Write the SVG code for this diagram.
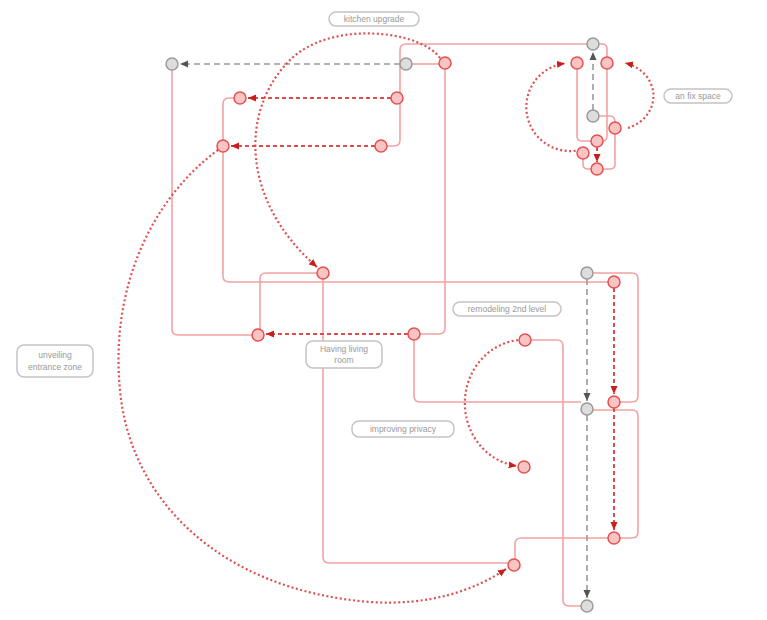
<svg xmlns="http://www.w3.org/2000/svg" width="767" height="620" viewBox="0 0 767 620">
<defs>
<style>
.bg{fill:#ffffff}
.s{fill:none;stroke:#f3a3a3;stroke-width:1.6}
.dr{fill:none;stroke:#e04a4a;stroke-width:2;stroke-dasharray:4 3}
.dt{fill:none;stroke:#e05050;stroke-width:2.2;stroke-dasharray:2 2.5}
.dg{fill:none;stroke:#9a9a9a;stroke-width:1.6;stroke-dasharray:6 4}
.rn{fill:#f9c4c4;stroke:#e85050;stroke-width:1.5}
.gn{fill:#dddddd;stroke:#9a9a9a;stroke-width:1.5}
.lb{fill:#ffffff;stroke:#c4c4c4;stroke-width:1.5}
.lt{fill:#999999;font-family:"Liberation Sans",Arial,sans-serif;font-size:8.5px;text-anchor:middle}
</style>
<marker id="ar" markerUnits="userSpaceOnUse" markerWidth="9" markerHeight="8" refX="8" refY="4" orient="auto"><path d="M0,0.5 L8,4 L0,7.5 z" fill="#c81e1e"/></marker>
<marker id="ag" markerUnits="userSpaceOnUse" markerWidth="9" markerHeight="8" refX="8" refY="4" orient="auto"><path d="M0,0.5 L8,4 L0,7.5 z" fill="#555555"/></marker>
</defs>
<rect class="bg" x="0" y="0" width="767" height="620"/>
<g id="connectors">
<path class="s" d="M412,64 H439"/>
<path class="s" d="M172,70 V329 Q172,335 178,335 H252"/>
<path class="s" d="M234,98 H229 Q223,98 223,104 V140"/>
<path class="s" d="M223,152 V276 Q223,282 229,282 H608"/>
<path class="s" d="M587,44 H406 Q400,44 400,50 V140 Q400,146 394,146 H387"/>
<path class="s" d="M445,69 V328 Q445,334 439,334 H420"/>
<path class="s" d="M317,273 H266 Q260,273 260,279 V329"/>
<path class="s" d="M323,279 V557 Q323,563 329,563 H508"/>
<path class="s" d="M414,340 V396 Q414,402 420,402 H581"/>
<path class="s" d="M593,273 H632 Q638,273 638,279 V396 Q638,402 632,402 H620"/>
<path class="s" d="M593,410 H632 Q638,410 638,416 V532 Q638,538 632,538 H620"/>
<path class="s" d="M608,538 H521 Q515,538 515,544 V559"/>
<path class="s" d="M531,340 H557 Q563,340 563,346 V600 Q563,606 569,606 H581"/>
<path class="s" d="M599,44 H602 Q607,44 607,49 V57"/>
<path class="s" d="M577,69 V136 Q577,141 582,141 H591"/>
<path class="s" d="M607,69 V135 Q607,141 603,141"/>
<path class="s" d="M599,116 H610 Q615,116 615,122"/>
<path class="s" d="M615,134 V164 Q615,169 610,169 H603"/>
<path class="s" d="M583,159 V164 Q583,169 588,169 H591"/>
<path class="dg" d="M400,64 H180" marker-end="url(#ag)"/>
<path class="dg" d="M593,110 V52" marker-end="url(#ag)"/>
<path class="dg" d="M587,279 V401" marker-end="url(#ag)"/>
<path class="dg" d="M587,415 V598" marker-end="url(#ag)"/>
<path class="dr" d="M408,334 H266" marker-end="url(#ar)"/>
<path class="dr" d="M391,98 H248" marker-end="url(#ar)"/>
<path class="dr" d="M375,146 H231" marker-end="url(#ar)"/>
<path class="dr" d="M614,288 V394" marker-end="url(#ar)"/>
<path class="dr" d="M614,408 V530" marker-end="url(#ar)"/>
<path class="dr" d="M597,147 V162" marker-end="url(#ar)"/>
<path class="dt" d="M440,58 C420,30 330,20 290,60 C240,110 240,200 317,267" marker-end="url(#ar)"/>
<path class="dt" d="M518,340 A60,63.5 0 0 0 516.7,466" marker-end="url(#ar)"/>
<path class="dt" d="M218,150 C150,200 110,290 120,390 C130,500 220,590 370,602 C430,606 475,590 506,569" marker-end="url(#ar)"/>
<path class="dt" d="M580,150 A44,44 0 1 1 565,63.4" marker-end="url(#ar)"/>
<path class="dt" d="M628,128 A38,34 0 0 0 625,63" marker-end="url(#ar)"/>
</g>
<g id="G1"><circle class="gn" cx="172" cy="64" r="6"/></g>
<g id="G2"><circle class="gn" cx="406" cy="64" r="6"/></g>
<g id="G3"><circle class="gn" cx="593" cy="44" r="6"/></g>
<g id="G4"><circle class="gn" cx="593" cy="116" r="6"/></g>
<g id="G5"><circle class="gn" cx="587" cy="273" r="6"/></g>
<g id="G6"><circle class="gn" cx="587" cy="409" r="6"/></g>
<g id="G7"><circle class="gn" cx="587" cy="606" r="6"/></g>
<g id="R1"><circle class="rn" cx="445" cy="63" r="6"/></g>
<g id="R2"><circle class="rn" cx="240" cy="98" r="6"/></g>
<g id="R3"><circle class="rn" cx="397" cy="98" r="6"/></g>
<g id="R4"><circle class="rn" cx="223" cy="146" r="6"/></g>
<g id="R5"><circle class="rn" cx="381" cy="146" r="6"/></g>
<g id="R6"><circle class="rn" cx="577" cy="63" r="6"/></g>
<g id="R7"><circle class="rn" cx="607" cy="63" r="6"/></g>
<g id="R8"><circle class="rn" cx="615" cy="128" r="6"/></g>
<g id="R9"><circle class="rn" cx="597" cy="141" r="6"/></g>
<g id="R10"><circle class="rn" cx="583" cy="153" r="6"/></g>
<g id="R11"><circle class="rn" cx="597" cy="169" r="6"/></g>
<g id="R12"><circle class="rn" cx="323" cy="273" r="6"/></g>
<g id="R13"><circle class="rn" cx="258" cy="335" r="6"/></g>
<g id="R14"><circle class="rn" cx="414" cy="334" r="6"/></g>
<g id="R15"><circle class="rn" cx="614" cy="282" r="6"/></g>
<g id="R16"><circle class="rn" cx="525" cy="340" r="6"/></g>
<g id="R17"><circle class="rn" cx="614" cy="402" r="6"/></g>
<g id="R18"><circle class="rn" cx="524" cy="467" r="6"/></g>
<g id="R19"><circle class="rn" cx="614" cy="538" r="6"/></g>
<g id="R20"><circle class="rn" cx="514" cy="565" r="6"/></g>
<g id="label-kitchen"><rect class="lb" x="329" y="12" width="90" height="14" rx="7"/><text class="lt" x="374" y="22">kitchen upgrade</text></g>
<g id="label-space"><rect class="lb" x="664" y="89" width="68" height="14" rx="7"/><text class="lt" x="698" y="99">an fix space</text></g>
<g id="label-entrance"><rect class="lb" x="17" y="345" width="76" height="32" rx="7"/><text class="lt" x="55" y="358">unveiling</text><text class="lt" x="55" y="370">entrance zone</text></g>
<g id="label-living"><rect class="lb" x="306" y="341" width="76" height="27" rx="7"/><text class="lt" x="344" y="352">Having living</text><text class="lt" x="344" y="363">room</text></g>
<g id="label-level"><rect class="lb" x="453" y="302" width="108" height="14" rx="7"/><text class="lt" x="507" y="312">remodeling 2nd level</text></g>
<g id="label-privacy"><rect class="lb" x="352" y="421" width="102" height="16" rx="7"/><text class="lt" x="403" y="432">improving privacy</text></g>
</svg>
